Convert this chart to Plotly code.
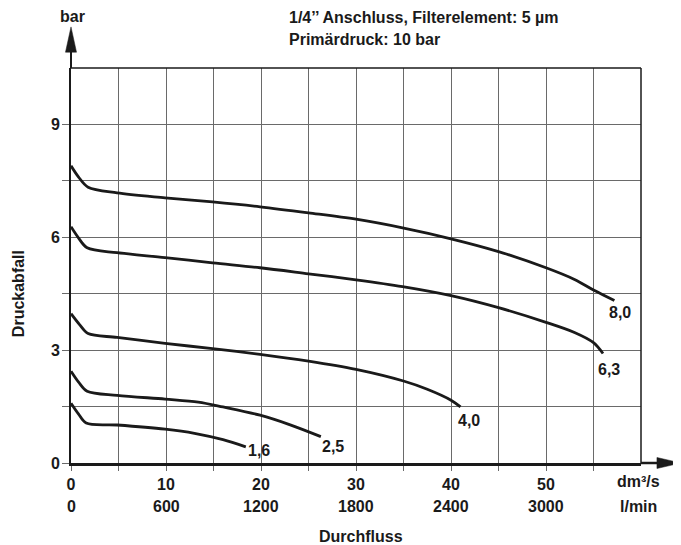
import plotly.graph_objects as go

# ---- data ----
x_80 = [0, 0.8, 1.8, 4.85, 9.9, 14.9, 19.9, 25, 30, 34.9, 40, 45, 50, 53, 55, 57.2]
y_80 = [7.9, 7.6, 7.33, 7.18, 7.05, 6.94, 6.81, 6.65, 6.48, 6.25, 5.96, 5.62, 5.19, 4.88, 4.6, 4.32]

x_63 = [0, 0.8, 1.7, 4.85, 9.9, 14.9, 19.9, 25, 30, 34.9, 40, 45, 50, 53, 55, 56]
y_63 = [6.28, 5.98, 5.72, 5.59, 5.46, 5.32, 5.19, 5.03, 4.87, 4.69, 4.45, 4.13, 3.74, 3.47, 3.2, 2.91]

x_40 = [0, 0.9, 1.8, 4.85, 9.9, 14.9, 19.9, 25, 30, 35, 37.5, 40, 41]
y_40 = [3.97, 3.68, 3.44, 3.34, 3.18, 3.04, 2.89, 2.71, 2.49, 2.18, 1.96, 1.67, 1.49]

x_25 = [0, 0.8, 1.7, 4.85, 9.9, 13.4, 16, 19.9, 23, 26.3]
y_25 = [2.44, 2.15, 1.91, 1.80, 1.70, 1.62, 1.49, 1.27, 1.02, 0.70]

x_16 = [0, 0.8, 1.6, 4.85, 9.9, 13, 16, 18.4]
y_16 = [1.59, 1.3, 1.06, 1.01, 0.90, 0.79, 0.62, 0.43]

series = [
    ("8,0", x_80, y_80, 57.8, 4.0),
    ("6,3", x_63, y_63, 56.6, 2.49),
    ("4,0", x_40, y_40, 41.9, 1.14),
    ("2,5", x_25, y_25, 27.6, 0.45),
    ("1,6", x_16, y_16, 19.8, 0.32),
]

x_tick_vals = [0, 10, 20, 30, 40, 50]
x_tick_dm3 = ["0", "10", "20", "30", "40", "50"]
x_tick_lmin = ["0", "600", "1200", "1800", "2400", "3000"]
y_tick_vals = [0, 1.5, 3, 4.5, 6, 7.5, 9]
y_tick_text = ["0", "", "3", "", "6", "", "9"]

FONT = "Liberation Sans, Arial, Helvetica, sans-serif"
FS = 16
INK = "#1a1a1a"
GRID = "#6a6a6a"

fig = go.Figure()
for name, xs, ys, lx, ly in series:
    fig.add_trace(go.Scatter(x=xs, y=ys, mode="lines", name=name,
                             line=dict(color=INK, width=2.8, shape="spline", smoothing=0.9),
                             showlegend=False, hoverinfo="skip"))
    fig.add_annotation(x=lx, y=ly, xref="x", yref="y", text="<b>" + name + "</b>",
                       xanchor="center", yanchor="middle",
                       showarrow=False, font=dict(family=FONT, size=FS, color=INK))

# x ticks every 5 (grid), labels at 10s
xt_vals = [v * 5 for v in range(12)]
xt_text = []
for v in xt_vals:
    if v in x_tick_vals:
        xt_text.append(x_tick_dm3[x_tick_vals.index(v)])
    else:
        xt_text.append("")

fig.update_xaxes(range=[0, 60], tickvals=xt_vals, ticktext=xt_text,
                 showgrid=True, gridcolor=GRID, gridwidth=1,
                 showline=True, linecolor=INK, linewidth=2.5, mirror=False,
                 ticks="outside", ticklen=5, tickcolor=GRID, tickwidth=1,
                 tickfont=dict(family=FONT, size=FS, color=INK, weight="bold"),
                 zeroline=False, fixedrange=True)
fig.update_yaxes(range=[0, 10.5], tickvals=y_tick_vals, ticktext=y_tick_text,
                 showgrid=True, gridcolor=GRID, gridwidth=1,
                 showline=True, linecolor=INK, linewidth=2, mirror=False,
                 ticks="outside", ticklen=7, tickcolor=GRID, tickwidth=1,
                 ticklabelstandoff=-1,
                 tickfont=dict(family=FONT, size=FS, color=INK, weight="bold"),
                 zeroline=False, fixedrange=True)


def label(x, y, text, xref="paper", yref="paper", xanchor="center", angle=0):
    fig.add_annotation(x=x, y=y, xref=xref, yref=yref, text="<b>" + text + "</b>",
                       xanchor=xanchor, yanchor="middle", textangle=angle,
                       showarrow=False, font=dict(family=FONT, size=FS, color=INK))


# second row of x labels (l/min)
for v, t in zip(x_tick_vals, x_tick_lmin):
    label(v, -0.111, t, xref="x")
label(59.7, -0.048, "dm³/s", xref="x")
label(59.7, -0.111, "l/min", xref="x")
label(0.509, -0.185, "Durchfluss")
label(-0.093, 0.43, "Druckabfall", angle=-90)
label(0.002, 1.13, "bar")
label(0.379, 1.129, "1/4’’ Anschluss, Filterelement: 5 µm", xanchor="left")
label(0.379, 1.073, "Primärdruck: 10 bar", xanchor="left")

# frame (top & right), axis extensions and arrowheads
fig.add_shape(type="line", xref="paper", yref="paper", x0=0, x1=1, y0=1, y1=1,
              line=dict(color=INK, width=1.5))
fig.add_shape(type="line", xref="paper", yref="paper", x0=1, x1=1, y0=0, y1=1,
              line=dict(color=INK, width=1.5))
fig.add_shape(type="line", xref="paper", yref="paper", x0=0, x1=0, y0=1, y1=1.045,
              line=dict(color=INK, width=2))
fig.add_shape(type="line", xref="paper", yref="paper", x0=1, x1=1.03, y0=0, y1=0,
              line=dict(color=INK, width=2.5))
fig.add_shape(type="path", xref="paper", yref="paper",
              path="M -0.0097,1.04 L 0.0097,1.04 L 0,1.104 Z",
              fillcolor=INK, line=dict(color=INK, width=0.5))
fig.add_shape(type="path", xref="paper", yref="paper",
              path="M 1.028,-0.0139 L 1.028,0.0139 L 1.0702,0 Z",
              fillcolor=INK, line=dict(color=INK, width=0.5))

# the page body has an 8px default margin; size the figure so the plot lands
# where the reference has it
fig.update_layout(width=673, height=537,
                  margin=dict(l=63, r=40, t=60, b=82),
                  paper_bgcolor="white", plot_bgcolor="white",
                  font=dict(family=FONT, size=FS, color=INK))

fig.write_html("out.html")
